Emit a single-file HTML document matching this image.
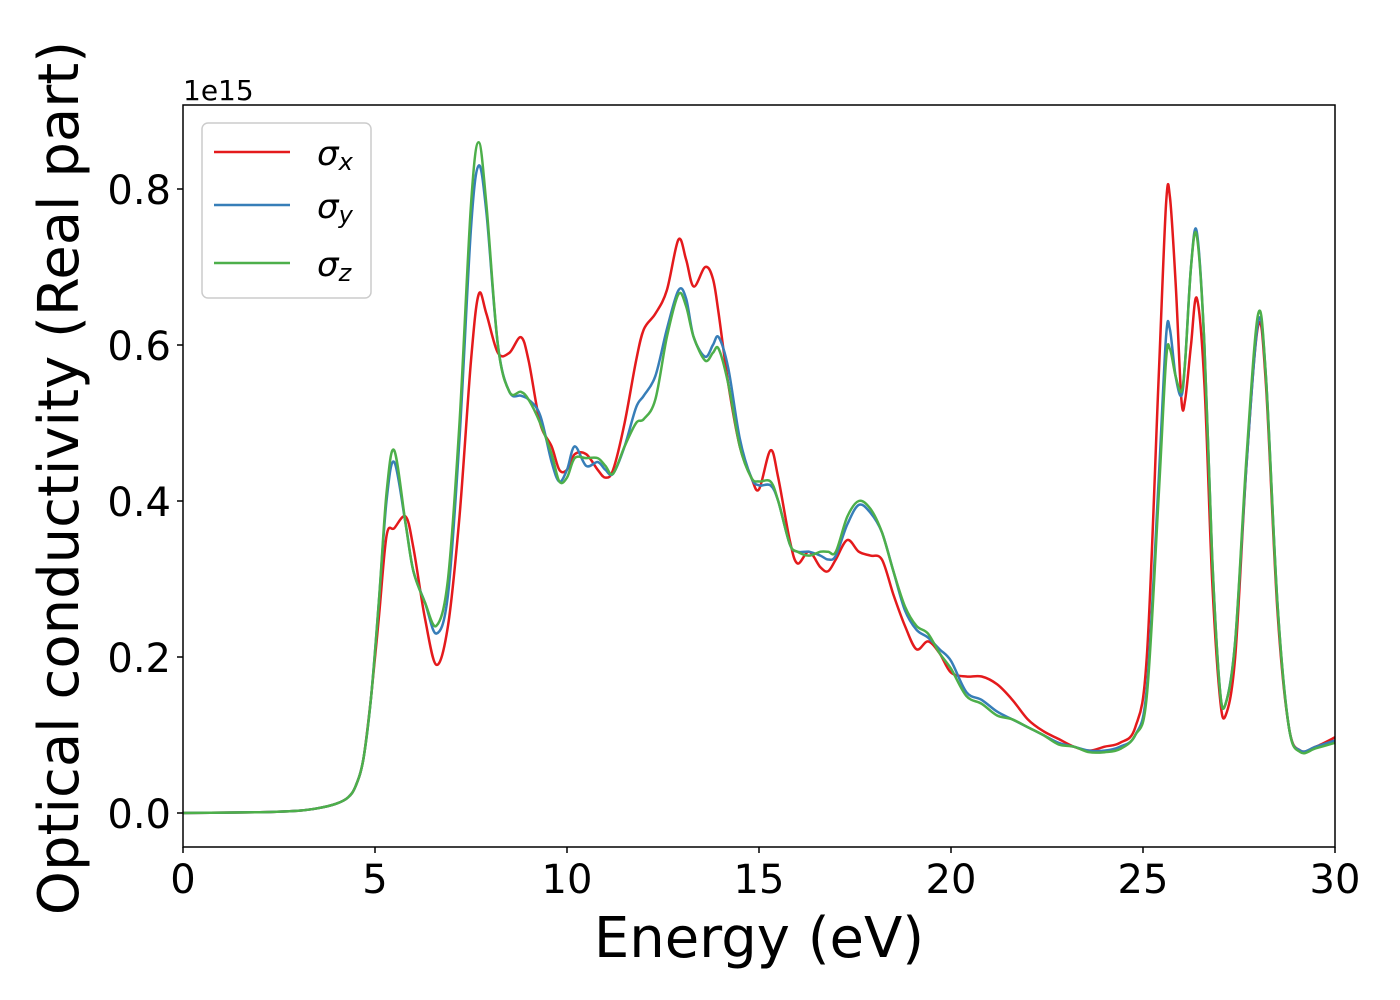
<!DOCTYPE html>
<html><head><meta charset="utf-8"><style>
html,body{margin:0;padding:0;background:#fff;}
svg{display:block;font-family:"DejaVu Sans","Liberation Sans",sans-serif;}
</style></head><body>
<svg id="chart" width="1400" height="1000" viewBox="0 0 1400 1000" xmlns="http://www.w3.org/2000/svg">
<rect x="0" y="0" width="1400" height="1000" fill="#fff"/>
<g id="series"></g>
<g id="axes"></g>
<text x="183" y="100" font-size="28">1e15</text>
<text x="759" y="957" font-size="56" text-anchor="middle">Energy (eV)</text>
<text x="0" y="0" font-size="56" text-anchor="middle" transform="translate(78,478) rotate(-90)">Optical conductivity (Real part)</text>
<g>
<rect x="202" y="123" width="169" height="175" rx="6" fill="#fff" fill-opacity="0.8" stroke="#cccccc" stroke-width="1.5"/>
<line x1="214" y1="152" x2="290" y2="152" stroke="#e41a1c" stroke-width="2.5"/>
<text x="317" y="165" font-size="34" font-style="italic">σ<tspan font-size="24" dy="5">x</tspan></text>
<line x1="214" y1="205" x2="290" y2="205" stroke="#377eb8" stroke-width="2.5"/>
<text x="317" y="218" font-size="34" font-style="italic">σ<tspan font-size="24" dy="5">y</tspan></text>
<line x1="214" y1="263" x2="290" y2="263" stroke="#4daf4a" stroke-width="2.5"/>
<text x="317" y="276" font-size="34" font-style="italic">σ<tspan font-size="24" dy="5">z</tspan></text>
</g>
</svg>
<script>
const energies=[0,2,3,3.5,4,4.3,4.5,4.7,4.9,5.1,5.3,5.5,5.8,6.0,6.3,6.6,6.9,7.2,7.5,7.7,7.9,8.2,8.5,8.8,9.0,9.3,9.6,9.8,10.0,10.2,10.5,10.8,11.0,11.2,11.5,11.8,12.0,12.3,12.6,12.9,13.1,13.3,13.6,13.8,13.95,14.2,14.5,14.8,15.0,15.3,15.5,15.8,16.0,16.3,16.6,16.8,17.0,17.3,17.6,17.9,18.2,18.5,18.8,19.1,19.4,19.7,20.0,20.4,20.8,21.2,21.6,22.0,22.4,22.8,23.2,23.6,24.0,24.4,24.8,25.1,25.4,25.6,25.7,25.85,26.0,26.1,26.25,26.4,26.6,26.8,27.0,27.15,27.4,27.7,28.0,28.2,28.5,28.8,29.1,29.5,30.0];
const sigmaX=[0,0.001,0.003,0.006,0.012,0.02,0.035,0.07,0.15,0.25,0.355,0.365,0.38,0.34,0.25,0.19,0.24,0.38,0.58,0.665,0.64,0.59,0.59,0.61,0.58,0.50,0.47,0.44,0.44,0.46,0.46,0.44,0.43,0.44,0.50,0.58,0.62,0.64,0.67,0.735,0.71,0.675,0.70,0.685,0.64,0.55,0.47,0.43,0.415,0.465,0.43,0.35,0.32,0.335,0.315,0.31,0.325,0.35,0.335,0.33,0.325,0.28,0.24,0.21,0.22,0.205,0.18,0.175,0.175,0.165,0.145,0.12,0.105,0.095,0.085,0.08,0.085,0.09,0.11,0.20,0.55,0.78,0.79,0.68,0.53,0.53,0.60,0.66,0.55,0.30,0.15,0.125,0.20,0.45,0.625,0.55,0.26,0.11,0.08,0.085,0.097];
const sigmaY=[0,0.001,0.003,0.006,0.012,0.02,0.035,0.07,0.15,0.27,0.40,0.45,0.37,0.31,0.27,0.23,0.28,0.48,0.75,0.83,0.77,0.60,0.54,0.535,0.53,0.51,0.45,0.425,0.44,0.47,0.445,0.45,0.44,0.435,0.47,0.52,0.535,0.56,0.62,0.67,0.66,0.61,0.585,0.60,0.61,0.57,0.48,0.43,0.42,0.42,0.40,0.345,0.335,0.335,0.33,0.325,0.33,0.37,0.395,0.385,0.36,0.31,0.26,0.235,0.225,0.21,0.195,0.155,0.145,0.13,0.12,0.11,0.10,0.09,0.085,0.08,0.08,0.085,0.10,0.16,0.42,0.61,0.62,0.56,0.535,0.58,0.70,0.745,0.60,0.33,0.16,0.14,0.22,0.45,0.63,0.56,0.27,0.11,0.08,0.085,0.093];
const sigmaZ=[0,0.001,0.003,0.006,0.012,0.02,0.035,0.07,0.15,0.27,0.41,0.465,0.37,0.31,0.27,0.24,0.30,0.50,0.78,0.86,0.78,0.60,0.54,0.54,0.53,0.50,0.46,0.425,0.43,0.455,0.455,0.455,0.445,0.435,0.47,0.50,0.505,0.53,0.61,0.665,0.65,0.61,0.58,0.59,0.595,0.55,0.47,0.43,0.425,0.425,0.40,0.345,0.335,0.33,0.335,0.335,0.335,0.38,0.40,0.39,0.36,0.31,0.265,0.24,0.23,0.205,0.185,0.15,0.14,0.125,0.12,0.11,0.10,0.088,0.085,0.078,0.078,0.082,0.10,0.15,0.40,0.58,0.595,0.56,0.54,0.58,0.70,0.74,0.60,0.33,0.16,0.14,0.22,0.46,0.64,0.56,0.27,0.11,0.078,0.083,0.09];
const xTicks=[0,5,10,15,20,25,30];
const yTicks=[0,0.2,0.4,0.6,0.8];
const yTickLabels=["0.0","0.2","0.4","0.6","0.8"];
</script>
<script>
const NS="http://www.w3.org/2000/svg";
const L=183,R=1335,T=105,B=847;
function xs(e){return L+(e-0)/(30-0)*(R-L);}
function ys(v){return 813-v*780;}
function path(xsArr,ysArr){
  const p=xsArr.map((e,i)=>[xs(e),ys(ysArr[i])]);
  let d="M"+p[0][0].toFixed(1)+","+p[0][1].toFixed(1);
  for(let i=0;i<p.length-1;i++){
    const p0=p[Math.max(i-1,0)],p1=p[i],p2=p[i+1],p3=p[Math.min(i+2,p.length-1)];
    const c1x=p1[0]+(p2[0]-p0[0])/6,c1y=p1[1]+(p2[1]-p0[1])/6;
    const c2x=p2[0]-(p3[0]-p1[0])/6,c2y=p2[1]-(p3[1]-p1[1])/6;
    d+=" C"+c1x.toFixed(1)+","+c1y.toFixed(1)+" "+c2x.toFixed(1)+","+c2y.toFixed(1)+" "+p2[0].toFixed(1)+","+p2[1].toFixed(1);
  }
  return d;
}
const g=document.getElementById("series");
[[sigmaX,"#e41a1c","series-sigma-x"],[sigmaY,"#377eb8","series-sigma-y"],[sigmaZ,"#4daf4a","series-sigma-z"]].forEach(s=>{
  const el=document.createElementNS(NS,"path");
  el.setAttribute("d",path(energies,s[0]));
  el.setAttribute("fill","none");
  el.setAttribute("stroke",s[1]);
  el.setAttribute("stroke-width","2.5");
  
  
  g.appendChild(el);
});
const a=document.getElementById("axes");
const frame=document.createElementNS(NS,"rect");
frame.setAttribute("x",L);frame.setAttribute("y",T);frame.setAttribute("width",R-L);frame.setAttribute("height",B-T);
frame.setAttribute("fill","none");frame.setAttribute("stroke","#000");frame.setAttribute("stroke-width","1.5");


a.appendChild(frame);
xTicks.forEach(t=>{
  const ln=document.createElementNS(NS,"line");
  ln.setAttribute("x1",xs(t));ln.setAttribute("x2",xs(t));ln.setAttribute("y1",B);ln.setAttribute("y2",B+6);ln.setAttribute("stroke","#000");ln.setAttribute("stroke-width","1.5");
  
  
  a.appendChild(ln);
  const tx=document.createElementNS(NS,"text");
  tx.setAttribute("x",xs(t));tx.setAttribute("y",B+46);tx.setAttribute("font-size","40");tx.setAttribute("text-anchor","middle");
  tx.textContent=String(t);
  
  
  a.appendChild(tx);
});
yTicks.forEach((t,i)=>{
  const ln=document.createElementNS(NS,"line");
  ln.setAttribute("x1",L-6);ln.setAttribute("x2",L);ln.setAttribute("y1",ys(t));ln.setAttribute("y2",ys(t));ln.setAttribute("stroke","#000");ln.setAttribute("stroke-width","1.5");
  
  
  a.appendChild(ln);
  const tx=document.createElementNS(NS,"text");
  tx.setAttribute("x",L-12);tx.setAttribute("y",ys(t)+15);tx.setAttribute("font-size","40");tx.setAttribute("text-anchor","end");
  tx.textContent=yTickLabels[i];
  
  
  a.appendChild(tx);
});
</script>
</body></html>
